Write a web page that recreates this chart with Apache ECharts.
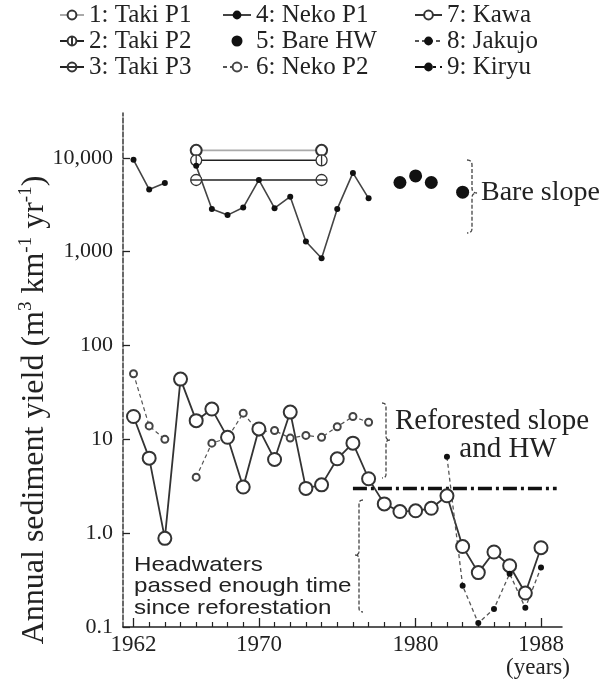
<!DOCTYPE html>
<html>
<head>
<meta charset="utf-8">
<script src="https://cdn.jsdelivr.net/npm/echarts@6/dist/echarts.min.js"></script>
<style>
  html, body { margin: 0; padding: 0; background: #fff; }
  #chart { width: 601px; height: 681px; }
</style>
</head>
<body>
<div id="chart"></div>
<script>
// ---- data (annual sediment yield, m3 km-1 yr-1) ----
const takiYears = [1966, 1974];
const takiP1 = [12000, 12000];
const takiP2 = [9400, 9400];
const takiP3 = [5800, 5800];

const nekoYears = [1962, 1963, 1964, 1965, 1966, 1967, 1968, 1969, 1970, 1971, 1972, 1973, 1974, 1975, 1976, 1977];
const nekoP1 = [9500, 4600, 5400, null, 8200, 2850, 2450, 2950, 5800, 2900, 3850, 1280, 850, 2850, 6900, 3700];
const nekoP2 = [50, 13.9, 10, null, 3.95, 9.1, 10.3, 19, 12, 12.4, 10.3, 11, 10.5, 13.6, 17.5, 15.2];

const bareYears = [1979, 1980, 1981, 1983];
const bareHW = [5450, 6400, 5450, 4300];

const kawaYears = [1962, 1963, 1964, 1965, 1966, 1967, 1968, 1969, 1970, 1971, 1972, 1973, 1974, 1975,
                   1976, 1977, 1978, 1979, 1980, 1981, 1982, 1983, 1984, 1985, 1986, 1987, 1988];
const kawa = [17.5, 6.3, 0.88, 43.8, 15.8, 21, 10.5, 3.1, 12.9, 6.1, 19.5, 3.0, 3.27, 6.2,
              9.1, 3.8, 2.05, 1.7, 1.73, 1.84, 2.5, 0.72, 0.38, 0.63, 0.45, 0.23, 0.70];

const jakujoYears = [1982, 1983, 1984, 1985, 1986, 1987, 1988];
const jakujo = [6.5, 0.275, 0.11, 0.156, 0.37, 0.16, 0.43];

const kiryuYears = [1976, 1989];
const kiryu = [3.0, 3.0];

const yTicks = [0.1, 1, 10, 100, 1000, 10000];
const yTickLabels = ['0.1', '1.0', '10', '100', '1,000', '10,000'];
const xMajor = [1962, 1970, 1980, 1988];
const xMinor = [1963, 1964, 1965, 1966, 1967, 1968, 1969, 1971, 1972, 1973, 1974, 1975, 1976,
                1977, 1978, 1979, 1981, 1982, 1983, 1984, 1985, 1986, 1987];

const names = ['1: Taki P1', '2: Taki P2', '3: Taki P3', '4: Neko P1', '5: Bare HW',
               '6: Neko P2', '7: Kawa', '8: Jakujo', '9: Kiryu'];

// ---- helpers ----
const pairs = (xs, vs) => xs.map((x, i) => [x, vs[i] == null ? '-' : vs[i]]);
const SERIF = 'Liberation Serif';
const SANS = 'Liberation Sans';
const INK = '#222';

// circle with a bar through it (vertical or horizontal)
const barCircle = vertical =>
  'path://M0,10A10,10,0,1,1,20,10A10,10,0,1,1,0,10Z' + (vertical ? 'M10,0L10,20' : 'M0,10L20,10');

// curly brace as a polyline; tip points right when dir = 1, left when dir = -1
function brace(x, y1, y2, ym, w, dir) {
  const xm = x + dir * w / 2, xt = x + dir * w, r = w / 2;
  const pts = [];
  const quad = (p0, p1, p2) => {
    for (let k = 0; k <= 8; k++) {
      const t = k / 8, u = 1 - t;
      pts.push([u * u * p0[0] + 2 * u * t * p1[0] + t * t * p2[0],
                u * u * p0[1] + 2 * u * t * p1[1] + t * t * p2[1]]);
    }
  };
  quad([x, y1], [xm, y1], [xm, y1 + r]);
  quad([xm, ym - r], [xm, ym], [xt, ym]);
  quad([xt, ym], [xm, ym], [xm, ym + r]);
  quad([xm, y2 - r], [xm, y2], [x, y2]);
  return pts;
}

const chart = echarts.init(document.getElementById('chart'), null, { renderer: 'canvas' });

const legendBase = {
  orient: 'vertical', top: 2, itemGap: 0, padding: 0,
  itemHeight: 11,
  textStyle: { fontFamily: SERIF, fontSize: 25, color: INK, lineHeight: 26 }
};

const braceStyle = { fill: null, stroke: '#444', lineWidth: 1.3, lineDash: [4, 2] };

chart.setOption({
  backgroundColor: '#fff',
  animation: false,
  legend: [
    Object.assign({}, legendBase, { left: 59, itemWidth: 24, data: names.slice(0, 3) }),
    Object.assign({}, legendBase, { left: 222, itemWidth: 28, data: names.slice(3, 6) }),
    Object.assign({}, legendBase, { left: 414, itemWidth: 27, data: names.slice(6, 9) })
  ],
  grid: { left: 123, right: 39, top: 113, bottom: 54, containLabel: false },
  xAxis: [
    {
      type: 'value', min: 1961.33, max: 1989.34, position: 'bottom',
      axisLine: { show: true, lineStyle: { color: INK, width: 1.5 } },
      axisTick: { show: true, inside: true, length: 9, customValues: xMajor, lineStyle: { color: INK, width: 1.3 } },
      axisLabel: { customValues: xMajor, margin: 6, fontFamily: SERIF, fontSize: 23, color: INK,
                   formatter: v => String(Math.round(v)) },
      splitLine: { show: false }
    },
    {
      type: 'value', min: 1961.33, max: 1989.34, position: 'bottom', offset: 0,
      axisLine: { show: false },
      axisTick: { show: true, inside: true, length: 5, customValues: xMinor, lineStyle: { color: INK, width: 1.2 } },
      axisLabel: { show: false },
      splitLine: { show: false }
    }
  ],
  yAxis: {
    type: 'log', logBase: 10, min: 0.1, max: 30000,
    axisLine: { show: true, lineStyle: { color: '#444', width: 1.6, type: [5, 2] } },
    axisTick: { show: true, inside: true, length: 7, customValues: yTicks, lineStyle: { color: INK, width: 1.3 } },
    axisLabel: {
      customValues: yTicks, margin: 10, fontFamily: SERIF, fontSize: 22, color: INK,
      formatter: v => yTickLabels[yTicks.findIndex(t => Math.abs(Math.log10(t) - Math.log10(v)) < 1e-6)] || ''
    },
    splitLine: { show: false }
  },
  series: [
    {
      name: names[0], type: 'line', data: pairs(takiYears, takiP1),
      lineStyle: { color: '#aaa', width: 1.6 },
      symbol: 'emptyCircle', symbolSize: 11,
      itemStyle: { color: '#333', borderColor: '#333', borderWidth: 1.3 }
    },
    {
      name: names[1], type: 'line', data: pairs(takiYears, takiP2),
      lineStyle: { color: INK, width: 1.6 },
      symbol: barCircle(true), symbolSize: 11,
      itemStyle: { color: '#fff', borderColor: '#333', borderWidth: 1.3 }
    },
    {
      name: names[2], type: 'line', data: pairs(takiYears, takiP3),
      lineStyle: { color: INK, width: 1.6 },
      symbol: barCircle(false), symbolSize: 11,
      itemStyle: { color: '#fff', borderColor: '#333', borderWidth: 1.3 }
    },
    {
      name: names[3], type: 'line', data: pairs(nekoYears, nekoP1), connectNulls: false,
      lineStyle: { color: '#444', width: 1.6 },
      symbol: 'circle', symbolSize: 6,
      itemStyle: { color: '#111' }
    },
    {
      name: names[4], type: 'scatter', data: pairs(bareYears, bareHW),
      symbol: 'circle', symbolSize: 13,
      itemStyle: { color: '#111', opacity: 1 }
    },
    {
      name: names[5], type: 'line', data: pairs(nekoYears, nekoP2), connectNulls: false,
      lineStyle: { color: '#555', width: 1.2, type: [4, 3] },
      symbol: 'emptyCircle', symbolSize: 7,
      itemStyle: { color: '#444', borderWidth: 1.1 }
    },
    {
      name: names[6], type: 'line', data: pairs(kawaYears, kawa),
      lineStyle: { color: '#333', width: 1.8 },
      symbol: 'emptyCircle', symbolSize: 13,
      itemStyle: { color: '#333', borderWidth: 1.5 }
    },
    {
      name: names[7], type: 'line', data: pairs(jakujoYears, jakujo),
      lineStyle: { color: '#555', width: 1.3, type: [4, 3] },
      symbol: 'circle', symbolSize: 6,
      itemStyle: { color: '#111' }
    },
    {
      name: names[8], type: 'line', data: pairs(kiryuYears, kiryu),
      lineStyle: { color: '#111', width: 3.5, type: [14, 4, 3, 4] },
      symbol: 'none',
      itemStyle: { color: '#111' }
    }
  ],
  graphic: [
    // y-axis title
    {
      type: 'text', x: 35, y: 410, rotation: Math.PI / 2,
      style: {
        text: '{n|Annual sediment yield (m}{s|3}{n| km}{s|-1}{n| yr}{s|-1}{n|)}',
        align: 'center', verticalAlign: 'middle', fill: INK,
        rich: {
          n: { fontFamily: SERIF, fontSize: 32, lineHeight: 36, fill: INK },
          s: { fontFamily: SERIF, fontSize: 19, lineHeight: 36, verticalAlign: 'top', padding: [0, 0, 13, 0], fill: INK }
        }
      }
    },
    { type: 'text', x: 538, y: 668, style: { text: '(years)', font: `23px "${SERIF}"`, fill: INK, align: 'center', verticalAlign: 'middle' } },
    // bare slope
    { type: 'polyline', shape: { points: brace(467, 160, 233, 193, 10, 1) }, style: braceStyle },
    { type: 'text', x: 481, y: 193, style: { text: 'Bare slope', font: `28px "${SERIF}"`, fill: INK, align: 'left', verticalAlign: 'middle' } },
    // reforested slope and headwaters
    { type: 'polyline', shape: { points: brace(382, 403, 478, 440, 8, 1) }, style: braceStyle },
    { type: 'text', x: 492, y: 421, style: { text: 'Reforested slope', font: `29px "${SERIF}"`, fill: INK, align: 'center', verticalAlign: 'middle' } },
    { type: 'text', x: 508, y: 449, style: { text: 'and HW', font: `29px "${SERIF}"`, fill: INK, align: 'center', verticalAlign: 'middle' } },
    // headwaters long after reforestation
    { type: 'polyline', shape: { points: brace(363, 500, 612, 555, 8, -1) }, style: braceStyle },
    {
      type: 'text', x: 134, y: 554, scaleX: 1.15,
      style: {
        text: 'Headwaters\npassed enough time\nsince reforestation',
        font: `21px "${SANS}"`, lineHeight: 21.5, fill: INK, align: 'left', verticalAlign: 'top'
      }
    }
  ]
});
</script>
</body>
</html>
